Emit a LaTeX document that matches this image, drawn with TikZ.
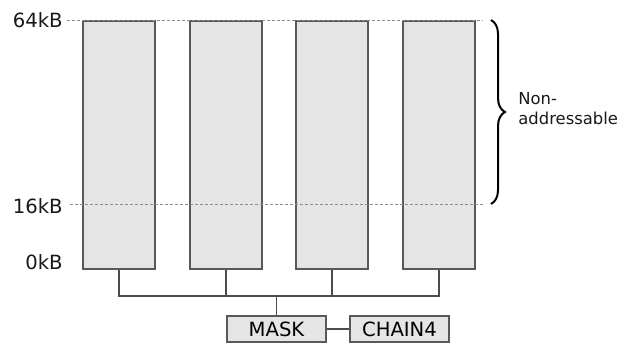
\documentclass[tikz,border=0pt]{standalone}
\usepackage{fontspec}
\setmainfont{DejaVu Sans}
\usetikzlibrary{decorations.pathreplacing}
\begin{document}
\begin{tikzpicture}[x=0.5pt,y=-0.5pt,
  font=\fontsize{9.8}{10}\selectfont,
  bank/.style={draw=black!65, fill=black!10, line width=0.8pt, minimum width=36pt, minimum height=124pt, inner sep=0pt, anchor=north west},
  regbox/.style={draw=black!65, fill=black!10, line width=0.8pt, minimum width=49.5pt, minimum height=13pt, inner sep=0pt},
  wire/.style={draw=black!70, line width=0.8pt},
  guide/.style={draw=black!45, line width=0.5pt, dash pattern=on 1.5pt off 1pt},
  lbl/.style={inner sep=0pt, text=black!90}]
\useasboundingbox (0,0) rectangle (621,344);
% banks
\node[bank] (b1) at (82,20) {};
\node[bank] (b2) at (189,20) {};
\node[bank] (b3) at (295,20) {};
\node[bank] (b4) at (402,20) {};
% guide lines
\coordinate (g64a) at (67,20);
\coordinate (g64b) at (483,20);
\coordinate (g16a) at (70,204);
\coordinate (g16b) at (483,204);
\draw[guide] (g64a) -- (g64b);
\draw[guide] (g16a) -- (g16b);
% labels
\node[lbl, anchor=east] (l64) at (63,20) {64kB};
\node[lbl, anchor=east] (l16) at (63,206) {16kB};
\node[lbl, anchor=east] (l0) at (63,262) {0kB};
% registers
\node[regbox] (mask) at (276.5,329) {MASK};
\node[regbox] (chain) at (399.5,329) {CHAIN4};
% bus
\coordinate (bus) at (0,296);
\draw[wire] (b1.south) -- (b1.south |- bus) -- (b4.south |- bus) -- (b4.south);
\draw[wire] (b2.south) -- (b2.south |- bus);
\draw[wire] (b3.south) -- (b3.south |- bus);
\draw[wire] (mask.north) -- (mask.north |- bus);
\draw[wire] (mask) -- (chain);
% brace
\coordinate (bt) at (491,20);
\coordinate (bb) at (491,204);
\draw[line width=1pt, decorate, decoration={brace, amplitude=7pt}] (bt) -- (bb);
\node[lbl, anchor=west, align=left, font=\fontsize{8.2}{10}\selectfont] (na) at (518,109) {Non-\\addressable};
\end{tikzpicture}
\end{document}
